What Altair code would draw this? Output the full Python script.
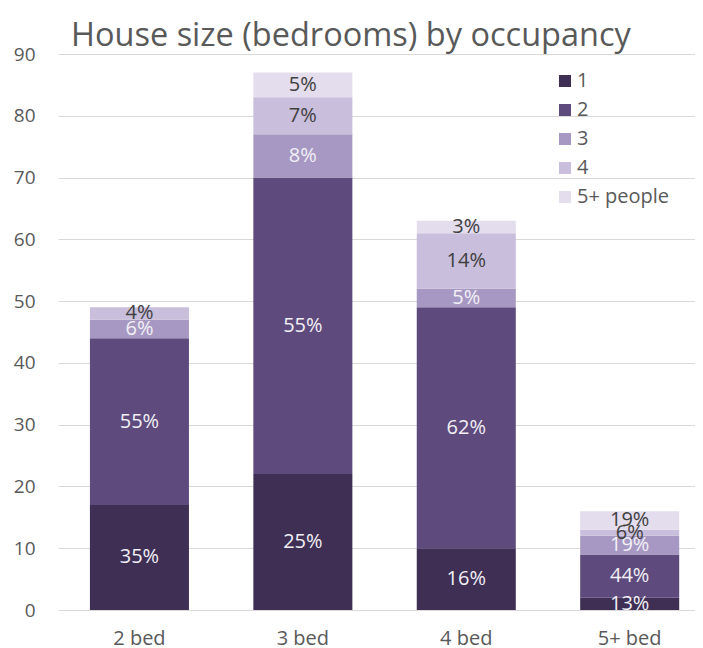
import altair as alt
import pandas as pd

beds = ["2 bed", "3 bed", "4 bed", "5+ bed"]
occupancy = ["1", "2", "3", "4", "5+ people"]
occ_colors = ["#3f2f55", "#5e4a7d", "#a698c2", "#c9bedb", "#e3dded"]
label_colors = ["#f2f0f6", "#f2f0f6", "#f2f0f6", "#404040", "#404040"]

# counts per occupancy group (rows: occupancy 1..5+, columns: beds)
occ1 = [17, 22, 10, 2]
occ2 = [27, 48, 39, 7]
occ3 = [3, 7, 3, 3]
occ4 = [2, 6, 9, 1]
occ5 = [0, 4, 2, 3]
series = [occ1, occ2, occ3, occ4, occ5]

rows = []
for i, (occ, vals) in enumerate(zip(occupancy, series)):
    for b, v in zip(beds, vals):
        rows.append({"bed": b, "occ": occ, "idx": i, "value": v, "lblcol": label_colors[i]})
df = pd.DataFrame(rows)

FONT = "Open Sans"
GREY = "#595959"

base = alt.Chart(df)

bars = base.mark_bar().encode(
    x=alt.X("bed:N", sort=beds,
            scale=alt.Scale(paddingInner=0.394, paddingOuter=0.146, align=0.669),
            axis=alt.Axis(title=None, labelAngle=0, domain=False, ticks=False, tickSize=0,
                          labelPadding=18, labelFontSize=20, labelColor=GREY,
                          labelFont=FONT, grid=False)),
    y=alt.Y("sum(value):Q", stack="zero",
            scale=alt.Scale(domain=[0, 90], nice=False),
            axis=alt.Axis(title=None, values=list(range(0, 100, 10)), domain=False, ticks=False,
                          tickSize=0, labelPadding=23, labelFontSize=19, labelColor=GREY,
                          labelFont=FONT, gridColor="#d9d9d9", gridWidth=1)),
    color=alt.Color("occ:N", sort=occupancy,
                    scale=alt.Scale(domain=occupancy, range=occ_colors),
                    legend=alt.Legend(title=None, orient="none", legendX=497, legendY=17,
                                      symbolType="square", symbolSize=144, symbolStrokeWidth=0,
                                      labelFontSize=20, labelColor=GREY, labelFont=FONT,
                                      rowPadding=9, padding=0, labelOffset=2)),
    order=alt.Order("idx:Q", sort="ascending"),
)

labels = base.transform_filter(
    alt.datum.value > 0
).transform_joinaggregate(
    total="sum(value)", groupby=["bed"]
).transform_window(
    cum="sum(value)", groupby=["bed"], sort=[alt.SortField("idx", order="ascending")],
    frame=[None, 0]
).transform_calculate(
    mid="datum.cum - datum.value / 2",
    pct="round(datum.value / datum.total * 100) + '%'"
).mark_text(fontSize=20, font=FONT, clip=True).encode(
    x=alt.X("bed:N", sort=beds),
    y=alt.Y("mid:Q"),
    text="pct:N",
    color=alt.Color("lblcol:N", scale=None),
)

chart = alt.layer(bars, labels).properties(
    width=637, height=556,
    autosize=alt.AutoSizeParams(type="none"),
    padding={"left": 50, "top": 46, "right": 0, "bottom": 46},
    title=alt.Title("House size (bedrooms) by occupancy", anchor="start", frame="group",
                    dx=13, dy=33, offset=0, baseline="alphabetic",
                    fontSize=32.5, font=FONT, fontWeight="normal", color=GREY),
).configure_view(stroke=None)

chart.save("out.html", embed_options={"renderer": "svg", "actions": False})
